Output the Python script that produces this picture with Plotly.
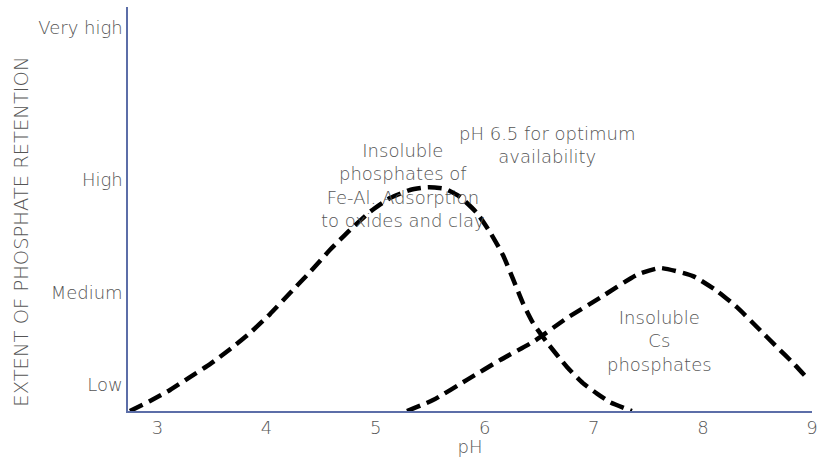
import plotly.graph_objects as go

# Fe-Al curve (pH, retention level on 0-100 scale)
feal_ph = [2.748, 2.932, 3.115, 3.298, 3.482, 3.665, 3.848, 4.032, 4.215, 4.398, 4.582, 4.765,
           4.948, 5.131, 5.315, 5.480, 5.636, 5.773, 5.929, 6.048, 6.167, 6.259, 6.350, 6.442,
           6.570, 6.754, 6.900, 7.029, 7.148, 7.349]
feal_ret = [0.0, 2.5, 5.2, 8.4, 11.6, 15.3, 19.3, 24.0, 29.2, 34.4, 39.9, 44.8,
            49.3, 52.7, 54.7, 55.4, 55.0, 53.0, 49.0, 44.3, 38.6, 32.7, 26.7, 21.8,
            17.0, 10.9, 6.9, 4.3, 2.2, 0.0]

# Cs curve
cs_ph = [5.287, 5.526, 5.837, 6.140, 6.442, 6.754, 7.056, 7.395, 7.606, 7.909, 8.129, 8.312,
         8.495, 8.679, 8.826, 8.954]
cs_ret = [0.0, 2.7, 7.7, 12.6, 17.1, 23.0, 28.0, 33.7, 35.4, 33.4, 29.7, 25.7,
          20.8, 15.8, 11.9, 8.2]

level_vals = [6.4, 29.2, 57.2, 95.0]
level_text = ["Low", "Medium", "High", "Very high"]
ph_ticks = [3, 4, 5, 6, 7, 8, 9]

line_style = dict(color="black", width=4.5, dash="14px,7px", shape="spline", smoothing=0.5)

fig = go.Figure()
fig.add_trace(go.Scatter(x=feal_ph, y=feal_ret, mode="lines", line=line_style,
                         showlegend=False, hoverinfo="skip"))
fig.add_trace(go.Scatter(x=cs_ph, y=cs_ret, mode="lines", line=line_style,
                         showlegend=False, hoverinfo="skip"))

text_color = "#555555"
FONT = "DejaVu Sans"
base_font = dict(family=FONT, size=18, color=text_color, weight=200)
title_font = dict(family=FONT, size=19.5, color=text_color, weight=200)
fig.add_annotation(x=6.571, y=65.8, text="pH 6.5 for optimum<br>availability",
                   showarrow=False, font=base_font, xanchor="center", yanchor="middle")
fig.add_annotation(x=5.251, y=55.7,
                   text="Insoluble<br>phosphates of<br>Fe-Al. Adsorption<br>to oxides and clay",
                   showarrow=False, font=base_font, xanchor="center", yanchor="middle")
fig.add_annotation(x=7.606, y=17.3, text="Insoluble<br>Cs<br>phosphates",
                   showarrow=False, font=base_font, xanchor="center", yanchor="middle")
# y-axis title, centred on the figure like the original
fig.add_annotation(xref="paper", yref="paper", x=-0.157, y=0.443,
                   text="EXTENT OF PHOSPHATE RETENTION", textangle=-90,
                   showarrow=False, font=title_font, xanchor="center", yanchor="middle")

axis_color = "#5c6ea8"
fig.update_layout(
    width=826, height=457,
    margin=dict(l=128, r=14, t=7, b=46),
    plot_bgcolor="white", paper_bgcolor="white",
    font=base_font,
    xaxis=dict(range=[2.73, 9.0], tickvals=ph_ticks, showgrid=False, zeroline=False,
               showline=True, linecolor=axis_color, linewidth=1.5, ticks="",
               automargin=False,
               title=dict(text="pH", font=base_font, standoff=0),
               tickfont=base_font),
    yaxis=dict(range=[0, 100], tickvals=level_vals, ticktext=level_text, showgrid=False,
               zeroline=False, showline=True, linecolor=axis_color, linewidth=1.5, ticks="",
               automargin=False, tickfont=base_font),
)

fig.write_html("out.html", config={"displayModeBar": False},
               post_script="document.body.style.margin='0';")
